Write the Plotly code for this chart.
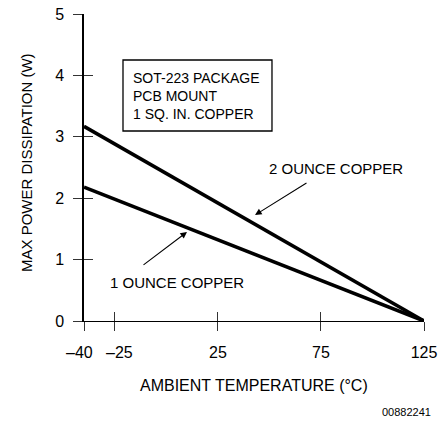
import plotly.graph_objects as go

# Derating curves: max power dissipation vs ambient temperature
temps = [-40, 125]
two_oz_copper = [3.17, 0.0]
one_oz_copper = [2.18, 0.0]

x_tick_vals = [-40, -25, 25, 75, 125]
x_tick_text = ["\u201340", "\u201325", "25", "75", "125"]
y_tick_vals = [0, 1, 2, 3, 4, 5]
y_tick_text = ["0", "1", "2", "3", "4", "5"]

# the two leftmost ticks are close together; their labels are drawn as
# annotations nudged apart so they don't run into each other
crowded = {-40: -5, -25: 5}
axis_tick_text = ["" if v in crowded else t for v, t in zip(x_tick_vals, x_tick_text)]

FONT = "Liberation Sans, Arial, DejaVu Sans, sans-serif"
INK = "black"

fig = go.Figure()
fig.add_trace(go.Scatter(x=temps, y=two_oz_copper, mode="lines",
                         line=dict(color=INK, width=3.5), hoverinfo="skip"))
fig.add_trace(go.Scatter(x=temps, y=one_oz_copper, mode="lines",
                         line=dict(color=INK, width=3.5), hoverinfo="skip"))
# invisible trace so the overlay axes (inner half of the crossing ticks) render
fig.add_trace(go.Scatter(x=[temps[0]], y=[0], xaxis="x2", yaxis="y2", mode="markers",
                         marker=dict(opacity=0), hoverinfo="skip"))

tick_common = dict(ticklen=9, tickwidth=1.2, tickcolor="#333")

fig.update_layout(
    width=442, height=423,
    margin=dict(l=84, r=18, t=14, b=102),
    paper_bgcolor="white", plot_bgcolor="white",
    showlegend=False,
    font=dict(family=FONT, color=INK),
    xaxis=dict(range=[-40, 125], tickmode="array", tickvals=x_tick_vals, ticktext=axis_tick_text,
               ticks="outside", showline=True, linecolor=INK, linewidth=1.3, tickangle=0,
               showgrid=False, zeroline=False, ticklabelstandoff=8, automargin=False,
               tickfont=dict(size=16, family=FONT, color=INK), **tick_common),
    yaxis=dict(range=[0, 5], tickmode="array", tickvals=y_tick_vals, ticktext=y_tick_text,
               ticks="outside", showline=True, linecolor=INK, linewidth=1.5, tickangle=0,
               showgrid=False, zeroline=False, ticklabelstandoff=6, automargin=False,
               tickfont=dict(size=16, family=FONT, color=INK), **tick_common),
    xaxis2=dict(range=[-40, 125], overlaying="x", anchor="y", tickmode="array",
                tickvals=x_tick_vals, ticks="inside", showticklabels=False, automargin=False,
                showline=False, showgrid=False, zeroline=False, **tick_common),
    yaxis2=dict(range=[0, 5], overlaying="y", anchor="x", side="left", tickmode="array",
                tickvals=y_tick_vals, ticks="inside", showticklabels=False, automargin=False,
                showline=False, showgrid=False, zeroline=False, **tick_common),
)

for v, t in zip(x_tick_vals, x_tick_text):
    if v in crowded:
        fig.add_annotation(x=v, y=0, xanchor="center", yanchor="middle", showarrow=False,
                           xshift=crowded[v], yshift=-31, text=t,
                           font=dict(size=16, family=FONT, color=INK))

# package note box
fig.add_shape(type="rect", xref="paper", yref="paper", x0=0.1147, x1=0.5529, y0=0.6189, y1=0.8502,
              line=dict(color=INK, width=1.3), fillcolor="rgba(0,0,0,0)")
fig.add_annotation(xref="paper", yref="paper", x=0.1382, y=0.7345, xanchor="left", yanchor="middle",
                   align="left", showarrow=False,
                   text="SOT-223 PACKAGE<br>PCB MOUNT<br>1 SQ. IN. COPPER",
                   font=dict(size=14, family=FONT, color=INK))

# curve labels with leader arrows
fig.add_annotation(x=48.8, y=2.49, xanchor="left", yanchor="middle", showarrow=False,
                   text="2 OUNCE COPPER", font=dict(size=15, family=FONT, color=INK))
fig.add_annotation(x=43, y=1.726, ax=68.7, ay=2.264, axref="x", ayref="y", text="",
                   showarrow=True, arrowhead=2, arrowsize=1.2, arrowwidth=1.1, arrowcolor=INK)
fig.add_annotation(x=-28.35, y=0.635, xanchor="left", yanchor="middle", showarrow=False,
                   text="1 OUNCE COPPER", font=dict(size=15, family=FONT, color=INK))
fig.add_annotation(x=10.0, y=1.45, ax=-11.85, ay=0.896, axref="x", ayref="y", text="",
                   showarrow=True, arrowhead=2, arrowsize=1.2, arrowwidth=1.1, arrowcolor=INK)

# axis titles
fig.add_annotation(xref="paper", yref="paper", x=0.5, y=-0.2085, xanchor="center", yanchor="middle",
                   showarrow=False, text="AMBIENT TEMPERATURE (\u00b0C)",
                   font=dict(size=16, family=FONT, color=INK))
fig.add_annotation(xref="paper", yref="paper", x=-0.1676, y=0.5147, xanchor="center", yanchor="middle",
                   showarrow=False, textangle=-90, text="MAX POWER DISSIPATION (W)",
                   font=dict(size=15, family=FONT, color=INK))
fig.add_annotation(xref="paper", yref="paper", x=1.026, y=-0.2964, xanchor="right", yanchor="middle",
                   showarrow=False, text="00882241",
                   font=dict(size=11, family="Liberation Sans, Arial, sans-serif", color=INK))

fig.write_html("out.html")
